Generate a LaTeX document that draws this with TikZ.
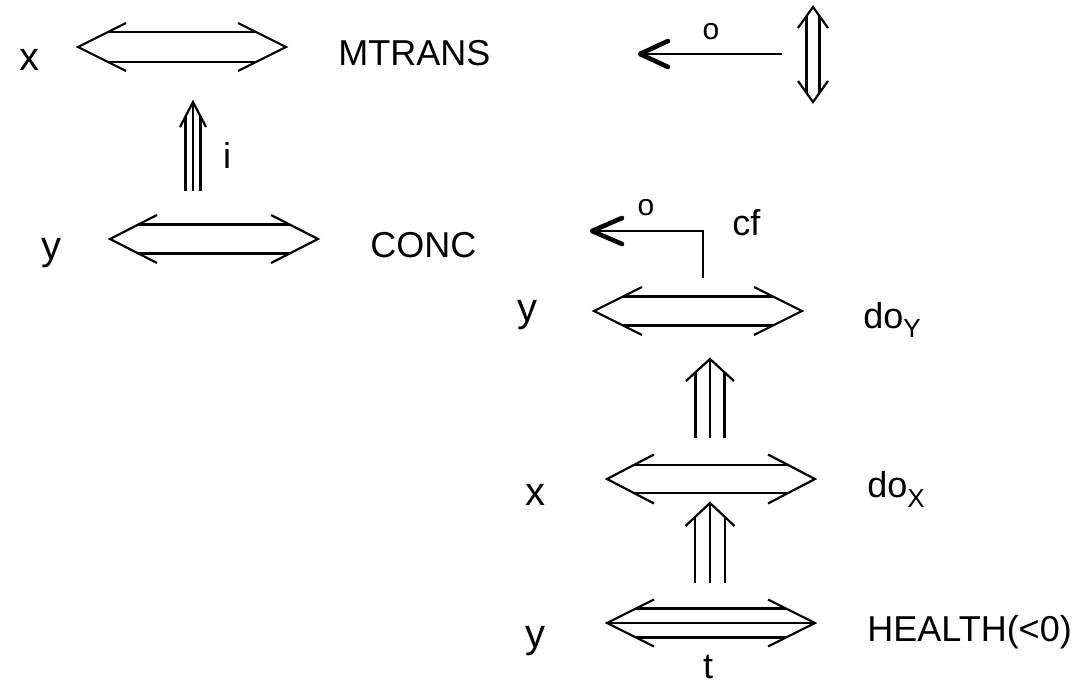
\documentclass[tikz,border=0pt]{standalone}
\usepackage{fontspec}
\setmainfont{Liberation Sans}
\tikzset{
  ln/.style={line width=1.1pt, line join=miter},
  thk/.style={line width=2.3pt, line cap=round, line join=round},
  lbl/.style={inner sep=0pt, font=\fontsize{18}{20}\selectfont},
  var/.style={inner sep=0pt, font=\fontsize{20}{22}\selectfont},
  oo/.style={inner sep=0pt, font=\fontsize{15}{16}\selectfont},
}
% horizontal double arrow: left x, right x, y, head length, head half-width, half gap
\newcommand\DblH[6]{%
  \draw[ln] ({#1+#4},{#3-#5}) -- (#1,#3) -- ({#1+#4},{#3+#5});
  \draw[ln] ({#2-#4},{#3-#5}) -- (#2,#3) -- ({#2-#4},{#3+#5});
  \draw[ln] ({#1+#4*#6/#5},{#3-#6}) -- ({#2-#4*#6/#5},{#3-#6});
  \draw[ln] ({#1+#4*#6/#5},{#3+#6}) -- ({#2-#4*#6/#5},{#3+#6});
}
% vertical triple arrow: centre x, bottom y, tip y, head length, head half-width, line offset
\newcommand\TriV[6]{%
  \draw[ln] ({#1-#5},{#3+#4}) -- (#1,#3) -- ({#1+#5},{#3+#4});
  \draw[ln] (#1,#2) -- (#1,#3);
  \draw[ln] ({#1-#6},#2) -- ({#1-#6},{#3+#4*#6/#5});
  \draw[ln] ({#1+#6},#2) -- ({#1+#6},{#3+#4*#6/#5});
}
% vertical double arrow: centre x, top tip y, bottom tip y, head length, head half-width, half gap
\newcommand\DblV[6]{%
  \draw[ln] ({#1-#5},{#2+#4}) -- (#1,#2) -- ({#1+#5},{#2+#4});
  \draw[ln] ({#1-#5},{#3-#4}) -- (#1,#3) -- ({#1+#5},{#3-#4});
  \draw[ln] ({#1-#6},{#2+#4*#6/#5}) -- ({#1-#6},{#3-#4*#6/#5});
  \draw[ln] ({#1+#6},{#2+#4*#6/#5}) -- ({#1+#6},{#3-#4*#6/#5});
}
\begin{document}
\begin{tikzpicture}[x=0.5pt,y=-0.5pt]
\useasboundingbox (0,0) rectangle (1084,685);
\fill[white] (0,0) rectangle (1084,685);

% ---- left group ----
\node[var, anchor=base] (x1) at (29,70) {x};
\node[lbl, anchor=base west] (mtrans) at (338,65) {MTRANS};
\DblH{78}{286}{47}{48}{24}{15}
\TriV{193}{191}{102}{25}{13}{7.5}
\node[lbl, anchor=base] (i) at (227,168) {i};
\node[var, anchor=base] (y1) at (51,259) {y};
\node[lbl, anchor=base west] (conc) at (370,257) {CONC};
\DblH{110}{318}{239}{47}{24}{14.5}

% ---- top right ----
\coordinate (oaS) at (782,54);
\coordinate (oaT) at (640,54);
\draw[ln] (oaS) -- (oaT);
\draw[thk] (668,41) -- (oaT) -- (668,67);
\node[oo] (o1) at (711,32) {o};
\DblV{813}{7}{102}{21}{15}{6.5}

% ---- cf arrow ----
\coordinate (cfS) at (703,278);
\coordinate (cfC) at (703,231);
\coordinate (cfT) at (592,231);
\draw[ln] (cfS) -- (cfC) -- (cfT);
\draw[thk] (622,218) -- (cfT) -- (622,244);
\node[oo] (o2) at (646,208) {o};
\node[lbl, anchor=base west] (cf) at (732,235) {cf};

% ---- right column ----
\node[var, anchor=base] (y2) at (527,321) {y};
\node[lbl, anchor=base west] (doy) at (863,328) {do\raisebox{-5pt}{\fontsize{13}{14}\selectfont Y}};
\DblH{594}{802}{311}{48}{24}{14.5}
\TriV{710}{438}{359}{22}{24}{14.5}

\node[var, anchor=base] (x2) at (535,505) {x};
\node[lbl, anchor=base west] (dox) at (867,497) {do\raisebox{-5pt}{\fontsize{13}{14}\selectfont X}};
\DblH{607}{815}{479}{47}{24.5}{14}
\TriV{710}{583}{503}{23}{24.5}{14.8}

\node[var, anchor=base] (y3) at (535,647) {y};
\node[lbl, anchor=base west] (health) at (867,641) {HEALTH(<0)};
\DblH{607}{815}{623}{47}{23.5}{14.5}
\draw[ln] (607,623) -- (815,623);
\node[lbl, anchor=base] (t) at (708,678) {t};
\end{tikzpicture}
\end{document}
